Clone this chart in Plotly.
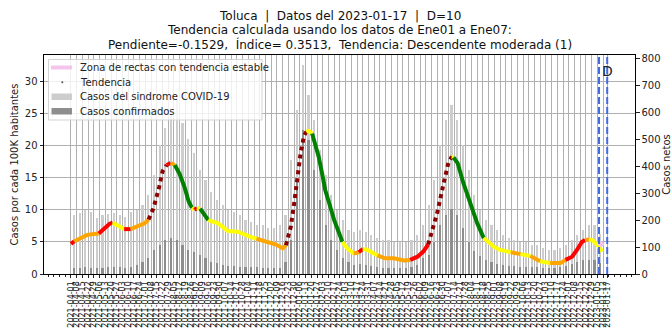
import pandas as pd
import plotly.graph_objects as go

FONT = "DejaVu Sans"

# ─── Data ─────────────────────────────────────────────────────────────────────
# Tendencia (casos por cada 100K habitantes), color = clasificación de la tendencia
trend_dates = [
    "2021-04-01", "2021-04-05", "2021-04-13", "2021-04-21", "2021-04-29", "2021-05-05",
    "2021-05-12", "2021-05-18", "2021-05-22", "2021-05-30", "2021-06-05", "2021-06-13",
    "2021-06-22", "2021-06-30", "2021-07-05", "2021-07-11", "2021-07-18", "2021-07-22",
    "2021-07-27", "2021-08-01", "2021-08-06", "2021-08-12", "2021-08-18", "2021-08-23",
    "2021-08-27", "2021-08-30", "2021-09-02", "2021-09-06", "2021-09-12", "2021-09-16",
    "2021-09-28", "2021-10-10", "2021-10-22", "2021-11-04", "2021-11-14", "2021-11-26",
    "2021-12-08", "2021-12-16", "2021-12-20", "2021-12-26", "2021-12-30", "2022-01-03",
    "2022-01-07", "2022-01-11", "2022-01-14", "2022-01-17", "2022-01-21", "2022-01-25",
    "2022-01-29", "2022-02-02", "2022-02-06", "2022-02-11", "2022-02-17", "2022-02-23",
    "2022-02-27", "2022-03-05", "2022-03-13", "2022-03-19", "2022-03-24", "2022-03-29",
    "2022-04-04", "2022-04-11", "2022-04-20", "2022-05-01", "2022-05-13", "2022-05-21",
    "2022-05-30", "2022-06-06", "2022-06-12", "2022-06-18", "2022-06-23", "2022-07-01",
    "2022-07-07", "2022-07-11", "2022-07-13", "2022-07-18", "2022-07-25", "2022-08-03",
    "2022-08-11", "2022-08-19", "2022-08-31", "2022-09-08", "2022-09-21", "2022-10-03",
    "2022-10-15", "2022-10-27", "2022-11-08", "2022-11-21", "2022-11-27", "2022-12-05",
    "2022-12-11", "2022-12-17", "2022-12-21", "2022-12-26", "2022-12-30", "2023-01-05",
    "2023-01-11",
]
trend_vals = [
    4.7, 5.1, 5.6, 6.1, 6.25, 6.3,
    7.2, 7.8, 8.0, 7.5, 7.0, 7.0,
    7.5, 7.9, 8.5, 10.3, 13.6, 16.0,
    17.0, 17.3, 17.0, 15.6, 13.5, 11.3,
    10.3, 10.0, 10.3, 10.2, 9.0, 8.4,
    7.9, 6.7, 6.6, 5.9, 5.5, 5.1,
    4.6, 4.0, 4.5, 7.4, 11.0, 15.2,
    18.9, 21.5, 22.2, 22.3, 21.9, 20.2,
    18.3, 15.8, 13.1, 11.0, 8.4, 6.4,
    5.0, 4.0, 3.2, 3.4, 3.9, 3.8,
    3.4, 2.9, 2.45, 2.45, 2.1, 2.2,
    2.7, 3.5, 4.6, 7.0, 9.5, 14.2,
    17.5, 18.3, 18.2, 17.3, 14.2, 11.0,
    7.9, 5.6, 4.3, 3.75, 3.4, 3.1,
    2.8, 2.0, 1.7, 1.7, 2.2, 2.7,
    3.75, 5.0, 5.3, 5.4, 5.3, 4.5,
    3.5,
]
# Y estable, O ascendente leve, R ascendente, D ascendente fuerte, G descendente
trend_class = list(
    "ROOOOR" "RRYYRO" "OODDDD" "ROGGGG" "YRYGGY" "YYYYOO"
    "OODDDD" "DDYYGG" "GGGGGG" "YYORYY" "YOOOOR" "RRDDDD"
    "DYGGGG" "GYYYOY" "OYOORR" "RROYYY" "Y"
)

# Casos netos por semana (barras), a partir del 2021-04-01
sindrome_semanal = [
    220, 225, 237, 230, 207, 218, 222, 226, 218, 211, 230, 237, 255, 292, 367, 480,
    540, 600, 640, 560, 500, 450, 385, 348, 303, 274, 255, 237, 230, 218, 200, 193,
    181, 181, 170, 170, 181, 218, 422, 607, 774, 663, 570, 460, 367, 292, 237, 200,
    163, 155, 163, 155, 144, 133, 126, 126, 118, 118, 118, 126, 144, 181, 255, 348,
    478, 570, 626, 570, 478, 385, 292, 237, 200, 181, 163, 144, 133, 126, 118, 118,
    107, 107, 96, 89, 89, 96, 107, 126, 144, 163, 181, 181, 150,
]
confirmados_semanal = [
    22, 22, 25, 22, 22, 22, 25, 25, 25, 22, 25, 33, 44, 59, 89, 107,
    126, 133, 126, 107, 89, 81, 70, 59, 44, 41, 33, 30, 30, 25, 25, 25,
    25, 22, 22, 22, 22, 44, 126, 348, 533, 496, 385, 274, 181, 126, 89, 59,
    44, 33, 37, 33, 30, 25, 22, 22, 22, 22, 22, 25, 33, 59, 70, 120,
    180, 220, 240, 220, 170, 120, 85, 67, 52, 44, 37, 33, 30, 30, 25, 25,
    25, 25, 22, 22, 22, 25, 30, 37, 44, 52, 52, 52, 40,
]
semana_inicio = "2021-04-01"

zona_dates = ["2023-01-07", "2023-01-12"]
zona_vals = [4.9, 4.4]

cortes = ["2023-01-07", "2023-01-17"]

tick_dates = list(pd.date_range("2021-04-01", "2023-01-12", freq="7D")) + [pd.Timestamp("2023-01-17")]
tick_text = [d.strftime("%Y-%m-%d") for d in tick_dates]

legend_items = ["Zona de rectas con tendencia estable", "Tendencia",
                "Casos del sindrome COVID-19", "Casos confirmados"]

title_lines = [
    "Toluca  |  Datos del 2023-01-17  |  D=10",
    "Tendencia calculada usando los datos de Ene01 a Ene07:",
    "Pendiente=-0.1529,  Índice= 0.3513,  Tendencia: Descendente moderada (1)",
]

CLASS_COLORS = {"Y": "#ffff00", "O": "#ffa500", "R": "#ff0000", "D": "#8b0000", "G": "#008000"}
LIGHT, DARK, PINK = "#cdcdcd", "#8e8e8e", "#f4c4ef"

# plot area in pixels (672x334 canvas)
L, R, T, B = 44, 635, 55, 274


def px(x):
    return (x - L) / (R - L)


def py(y):
    return (B - y) / (B - T)


# ─── Figure ───────────────────────────────────────────────────────────────────
fig = go.Figure()

week_x = pd.date_range(semana_inicio, periods=len(sindrome_semanal), freq="7D") + pd.Timedelta(hours=84)
bar_w = 2.6 * 86400000

fig.add_trace(go.Bar(x=week_x, y=sindrome_semanal, width=bar_w, yaxis="y",
                     marker=dict(color=LIGHT, line_width=0), showlegend=False))
fig.add_trace(go.Bar(x=week_x, y=confirmados_semanal, width=bar_w, yaxis="y",
                     marker=dict(color=DARK, line_width=0), showlegend=False))

# colored trend, one trace per run of equal class
start = 0
for i in range(1, len(trend_vals) + 1):
    if i == len(trend_vals) or trend_class[i] != trend_class[start]:
        end = min(i + 1, len(trend_vals))
        c = trend_class[start]
        fig.add_trace(go.Scatter(
            x=trend_dates[start:end], y=trend_vals[start:end], yaxis="y2",
            mode="lines",
            line=dict(color=CLASS_COLORS[c], width=4, dash="dot" if c == "D" else "solid"),
            showlegend=False, hoverinfo="skip",
        ))
        start = i

fig.add_trace(go.Scatter(x=zona_dates, y=zona_vals, yaxis="y2", mode="lines",
                         line=dict(color=PINK, width=5), showlegend=False))

# odd-week labels on a twin x axis so none get dropped for overlapping
fig.add_trace(go.Scatter(x=[tick_dates[1]], y=[None], xaxis="x2", yaxis="y",
                         showlegend=False, hoverinfo="skip"))

for d in cortes:
    fig.add_shape(type="line", x0=d, x1=d, xref="x", y0=0, y1=1, yref="paper",
                  line=dict(color="#4169e1", width=2, dash="7px,3px"))

fig.add_annotation(x=cortes[1], y=31.6, xref="x", yref="y2", text="D",
                   showarrow=False, font=dict(family=FONT, size=14, color="#222"))

for line, yy in zip(title_lines, [16, 30.5, 45]):
    fig.add_annotation(x=0.5, y=py(yy), xref="paper", yref="paper", yanchor="middle",
                       text=line, showarrow=False,
                       font=dict(family=FONT, size=12, color="#111"))

# legend box drawn by hand (matplotlib-like compact spacing)
fig.add_shape(type="rect", xref="paper", yref="paper", layer="above",
              x0=px(48.5), x1=px(262), y0=py(120), y1=py(59.5),
              fillcolor="rgba(255,255,255,0.8)", line=dict(color="#d3d3d3", width=1))
fig.add_shape(type="line", xref="paper", yref="paper", layer="above",
              x0=px(51), x1=px(72), y0=py(67.5), y1=py(67.5),
              line=dict(color=PINK, width=4))
fig.add_shape(type="circle", xref="paper", yref="paper", layer="above",
              x0=px(61.3), x1=px(63.3), y0=py(83.3), y1=py(81.3),
              fillcolor="#555555", line_width=0)
fig.add_shape(type="rect", xref="paper", yref="paper", layer="above",
              x0=px(51.5), x1=px(72), y0=py(100), y1=py(93.5),
              fillcolor=LIGHT, line_width=0)
fig.add_shape(type="rect", xref="paper", yref="paper", layer="above",
              x0=px(51.5), x1=px(72), y0=py(114.5), y1=py(108),
              fillcolor=DARK, line_width=0)
for label, yy in zip(legend_items, [67.5, 82, 96.7, 111.2]):
    fig.add_annotation(x=px(78), y=py(yy), xref="paper", yref="paper",
                       xanchor="left", yanchor="middle", text=label, showarrow=False,
                       font=dict(family=FONT, size=10, color="#222"))

xcommon = dict(
    type="date", range=["2021-02-27", "2023-02-20"], tickmode="array",
    tickangle=-90, tickfont=dict(size=8, color="#222"),
    ticks="outside", ticklen=3, tickcolor="#222", automargin=False,
    showgrid=True, gridcolor="#b0b0b0", gridwidth=0.8,
)

fig.update_layout(
    width=672, height=334,
    margin=dict(l=L, r=672 - R, t=T, b=334 - B),
    plot_bgcolor="white", paper_bgcolor="white",
    font=dict(family=FONT, size=10, color="#222"),
    barmode="overlay", bargap=0, showlegend=False,
    xaxis=dict(
        **xcommon,
        tickvals=tick_dates[::2], ticktext=tick_text[::2],
        showline=True, linecolor="black", linewidth=1, mirror=True,
        minor=dict(ticks="outside", ticklen=2, tick0="2021-04-01",
                   dtick=7 * 86400000, tickcolor="#222", showgrid=False),
    ),
    xaxis2=dict(
        **xcommon, overlaying="x", anchor="y", side="bottom",
        tickvals=tick_dates[1::2], ticktext=tick_text[1::2], showline=False,
    ),
    yaxis=dict(
        side="right", range=[0, 812], dtick=100,
        ticks="outside", ticklen=3.5, tickcolor="#222",
        showgrid=False, zeroline=False, automargin=False,
        showline=True, linecolor="black", linewidth=1, mirror=True,
        title=dict(text="Casos netos", font=dict(size=10), standoff=2),
    ),
    yaxis2=dict(
        overlaying="y", side="left", range=[0, 34.15], dtick=5,
        ticks="outside", ticklen=3.5, tickcolor="#222", automargin=False,
        showgrid=True, gridcolor="#b0b0b0", gridwidth=0.8, zeroline=False,
        title=dict(text="Casos por cada 100K habitantes", font=dict(size=10), standoff=4),
    ),
)

# the page's default body margin would shift the 672x334 figure
fig.write_html("out.html", config={"displayModeBar": False},
               post_script="document.body.style.margin='0';")
